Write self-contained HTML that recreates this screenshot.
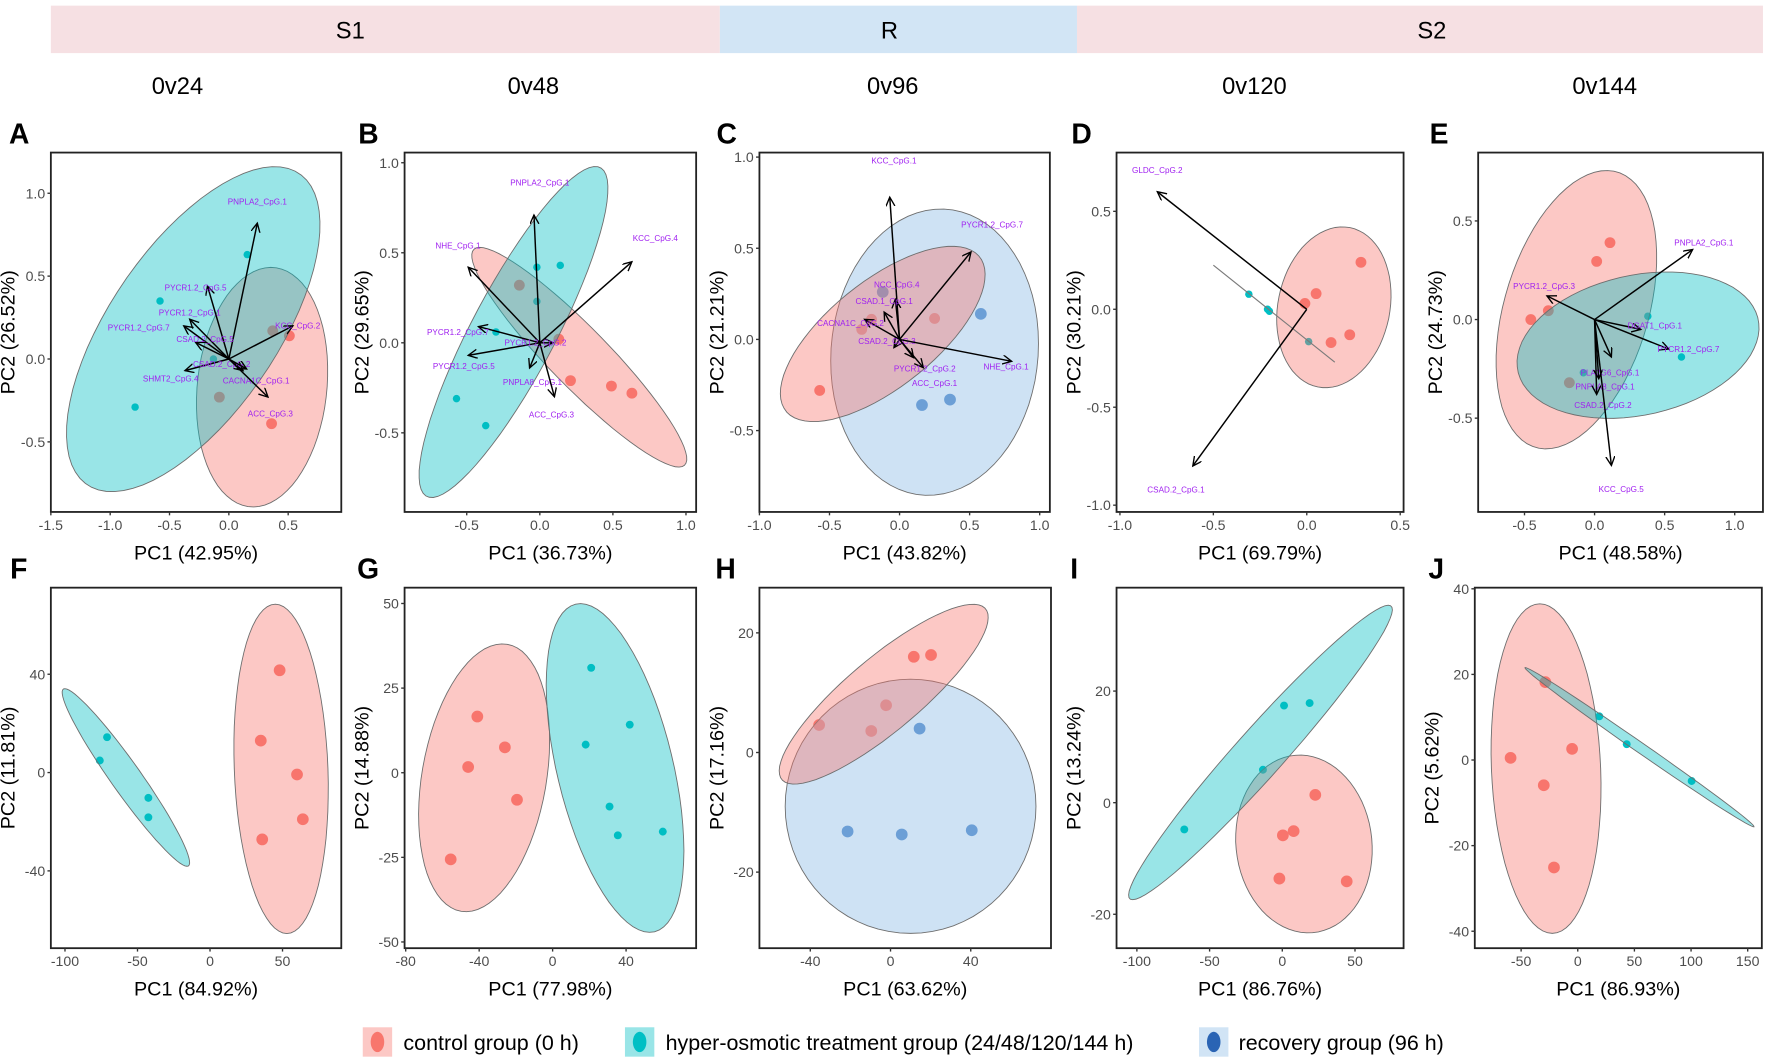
<!DOCTYPE html>
<html><head><meta charset="utf-8"><style>
html,body{margin:0;padding:0;background:#fff;}
svg{display:block;font-family:"Liberation Sans",sans-serif;}
</style></head><body>
<svg id="fig" xmlns="http://www.w3.org/2000/svg" width="1772" height="1063" viewBox="0 0 1568 940.6" preserveAspectRatio="none">
<defs>
<marker id="arr" markerUnits="userSpaceOnUse" markerWidth="10" markerHeight="10" refX="8" refY="4" orient="auto"><path d="M0,0 L8,4 L0,8" fill="none" stroke="#000" stroke-width="1.2"/></marker>
</defs>
<g>
<rect x="45" y="5" width="592" height="42" fill="#f6e0e3"/>
<rect x="637" y="5" width="316" height="42" fill="#d2e5f5"/>
<rect x="953" y="5" width="607" height="42" fill="#f6e0e3"/>
<text x="310" y="34" font-size="21" text-anchor="middle">S1</text>
<text x="787" y="34" font-size="21" text-anchor="middle">R</text>
<text x="1267" y="34" font-size="21" text-anchor="middle">S2</text>
</g>
<g font-size="21" text-anchor="middle">
<text x="157" y="83">0v24</text>
<text x="472" y="83">0v48</text>
<text x="790" y="83">0v96</text>
<text x="1110" y="83">0v120</text>
<text x="1420" y="83">0v144</text>
</g>
<g id="panels"></g>
<g font-size="19">
<rect x="321" y="909" width="26" height="26" fill="#f8766d" fill-opacity="0.4"/>
<ellipse cx="334" cy="922" rx="6" ry="9" fill="#f8766d"/>
<text x="357" y="929">control group (0 h)</text>
<rect x="553" y="909" width="26" height="26" fill="#00bfc4" fill-opacity="0.4"/>
<ellipse cx="566" cy="922" rx="6" ry="9" fill="#00bfc4"/>
<text x="589" y="929">hyper-osmotic treatment group (24/48/120/144 h)</text>
<rect x="1061" y="909" width="26" height="26" fill="#a3c9ec" fill-opacity="0.5"/>
<ellipse cx="1074" cy="922" rx="6" ry="9" fill="#2a64b4"/>
<text x="1096" y="929">recovery group (96 h)</text>
</g>
</svg>
<script>
// ---- data ----
const axisTitlesX = {A:"PC1 (42.95%)",B:"PC1 (36.73%)",C:"PC1 (43.82%)",D:"PC1 (69.79%)",E:"PC1 (48.58%)",F:"PC1 (84.92%)",G:"PC1 (77.98%)",H:"PC1 (63.62%)",I:"PC1 (86.76%)",J:"PC1 (86.93%)"};
const axisTitlesY = {A:"PC2 (26.52%)",B:"PC2 (29.65%)",C:"PC2 (21.21%)",D:"PC2 (30.21%)",E:"PC2 (24.73%)",F:"PC2 (11.81%)",G:"PC2 (14.88%)",H:"PC2 (17.16%)",I:"PC2 (13.24%)",J:"PC2 (5.62%)"};
const xTicks = {A:[-1.5,-1,-0.5,0,0.5],B:[-0.5,0,0.5,1],C:[-1,-0.5,0,0.5,1],D:[-1,-0.5,0,0.5],E:[-0.5,0,0.5,1],F:[-100,-50,0,50],G:[-80,-40,0,40],H:[-40,0,40],I:[-100,-50,0,50],J:[-50,0,50,100,150]};
const yTicks = {A:[-0.5,0,0.5,1],B:[-0.5,0,0.5,1],C:[-0.5,0,0.5,1],D:[-1,-0.5,0,0.5],E:[-0.5,0,0.5],F:[-40,0,40],G:[-50,-25,0,25,50],H:[-20,0,20],I:[-20,0,20],J:[-40,-20,0,20,40]};
const tickDecimals = {A:1,B:1,C:1,D:1,E:1,F:0,G:0,H:0,I:0,J:0};

const controlPts = {
A:[[0.51,0.14],[0.36,-0.39],[0.37,0.17],[-0.08,-0.23]],
B:[[0.13,0.02],[0.21,-0.21],[0.49,-0.24],[0.63,-0.28],[-0.14,0.32]],
C:[[-0.57,-0.28],[-0.27,0.055],[-0.2,0.11],[0.25,0.115]],
D:[[-0.01,0.03],[0.05,0.08],[0.29,0.24],[0.13,-0.17],[0.23,-0.13]],
E:[[0.11,0.39],[0.015,0.295],[-0.33,0.045],[-0.455,0],[-0.18,-0.32]],
F:[[48,41.6],[35,13],[60,-0.8],[64,-19],[36,-27.2]],
G:[[-41,16.6],[-26,7.5],[-46,1.7],[-19.4,-8],[-55.5,-25.6]],
H:[[-35.6,4.6],[-9.6,3.6],[-2.2,7.9],[11.6,16],[20.2,16.3]],
I:[[22.7,1.4],[0.4,-5.85],[7.8,-5.1],[-2,-13.6],[44.3,-14.1]],
J:[[-59.3,0.5],[-28.6,18.2],[-5,2.6],[-30,-5.9],[-21,-25.1]]
};
const treatPts = {
A:[[0.155,0.63],[-0.58,0.35],[-0.79,-0.29],[-0.13,0.0]],
B:[[-0.02,0.42],[0.14,0.43],[-0.02,0.23],[-0.3,0.06],[-0.57,-0.31],[-0.37,-0.46]],
C:[],
D:[[-0.31,0.077],[-0.21,0.0],[-0.2,-0.01],[0.01,-0.165]],
E:[[0.38,0.017],[0.62,-0.19],[-0.08,-0.27]],
F:[[-71,14.4],[-76,4.9],[-42.5,-10.3],[-42.5,-18.2]],
G:[[21,31],[42,14.2],[18,8.3],[31,-10],[35.5,-18.5],[60,-17.4]],
H:[],
I:[[1.2,17.4],[18.8,17.85],[-13.3,5.9],[-67.4,-4.8]],
J:[[19,10.2],[43.2,3.7],[100.5,-4.9]]
};
const recoveryPts = {
C:[[-0.12,0.26],[0.58,0.14],[0.16,-0.36],[0.36,-0.33]],
H:[[-21.4,-13.2],[5.6,-13.7],[40.5,-13],[14.5,4]]
};
// ellipses: [cx, cy, ux, uy, vx, vy] (centre + conjugate half-axes, data units)
const controlEll = {
A:[0.28,-0.17,0.12,0.72,0.54,-0.06],
B:[0.27,-0.08,0.72,-0.6,0.15,0.11],
C:[-0.12,0.03,0.63,0.46,0.37,-0.14],
D:[0.145,0.01,0.06,0.41,0.3,-0.02],
E:[-0.13,0.05,0.39,0.66,0.42,-0.25],
F:[49,1.5,-4,67,32.3,0],
G:[-37.3,-1.5,12.5,39.45,33.4,-3],
H:[-3.4,9.75,51.4,13.95,8.5,-5.6],
I:[14.9,-7.4,-5.9,15.9,46.6,1],
J:[-28,-2,-5.5,38.5,48.2,0]
};
const treatEll = {
A:[-0.3,0.18,0.91,0.93,0.56,-0.31],
B:[-0.18,0.06,0.6,0.91,0.24,-0.13],
E:[0.31,-0.13,0.84,0.17,0.2,-0.33],
F:[-58,-2,43,-36,9,3],
G:[34,1.4,-21.5,48.4,30.7,4],
I:[-15,9,89.5,26.3,14.7,-2.2],
J:[54.5,3,101,-18.6,4.6,0.6]
};
const recoveryEll = {
C:[0.25,-0.07,0.13,0.78,0.73,-0.09],
H:[10,-9,62.5,0,0,21.25]
};
// degenerate treatment ellipse in D (line): [x1,y1,x2,y2]
const treatLineD = [-0.5,0.225,0.15,-0.27];
// loading vectors: [name, tipX, tipY, labelX, labelY]
const vectors = {
A:[["PNPLA2_CpG.1",0.24,0.82,0.24,0.95],["PYCR1.2_CpG.5",-0.18,0.44,-0.28,0.43],["PYCR1.2_CpG.1",-0.33,0.24,-0.33,0.28],["PYCR1.2_CpG.7",-0.38,0.2,-0.76,0.19],["CSAD.2_CpG.5",-0.28,0.1,-0.2,0.12],["SHMT2_CpG.4",-0.37,-0.07,-0.49,-0.12],["CSAD.2_CpG.2",0.12,-0.07,-0.06,-0.03],["CACNA1C_CpG.1",0.15,-0.06,0.23,-0.13],["KCC_CpG.2",0.54,0.2,0.58,0.2],["ACC_CpG.3",0.33,-0.23,0.35,-0.33]],
B:[["PNPLA2_CpG.1",-0.04,0.71,0.0,0.89],["NHE_CpG.1",-0.49,0.42,-0.56,0.54],["KCC_CpG.4",0.63,0.45,0.79,0.58],["PYCR1.2_CpG.7",-0.42,0.09,-0.56,0.06],["PYCR1.2_CpG.5",-0.49,-0.07,-0.52,-0.13],["PNPLA8_CpG.1",-0.07,-0.14,-0.05,-0.22],["ACC_CpG.3",0.1,-0.3,0.08,-0.4],["PYCR1.2_CpG.2",0.09,0.0,-0.03,0.0]],
C:[["KCC_CpG.1",-0.07,0.78,-0.04,0.98],["PYCR1.2_CpG.7",0.51,0.48,0.66,0.63],["NCC_CpG.4",-0.03,0.22,-0.02,0.3],["CSAD.1_CpG.1",-0.11,0.15,-0.11,0.21],["CACNA1C_CpG.2",-0.25,0.11,-0.35,0.09],["CSAD.2_CpG.3",-0.04,-0.045,-0.09,-0.01],["PYCR1.2_CpG.2",0.17,-0.155,0.18,-0.16],["NHE_CpG.1",0.8,-0.12,0.76,-0.15],["ACC_CpG.1",0.1,-0.1,0.25,-0.24]],
D:[["GLDC_CpG.2",-0.8,0.6,-0.8,0.71],["CSAD.2_CpG.1",-0.61,-0.8,-0.7,-0.92]],
E:[["PNPLA2_CpG.1",0.7,0.355,0.78,0.39],["PYCR1.2_CpG.3",-0.34,0.12,-0.36,0.17],["DGAT1_CpG.1",0.33,-0.05,0.43,-0.03],["PYCR1.2_CpG.7",0.53,-0.15,0.67,-0.15],["PLA2G6_CpG.1",0.12,-0.19,0.11,-0.27],["PNPLA8_CpG.1",0.03,-0.3,0.075,-0.34],["CSAD.2_CpG.2",0.015,-0.38,0.06,-0.435],["KCC_CpG.5",0.12,-0.74,0.19,-0.86]]
};

// ---- layout (pixel geometry only) ----
const layout = {
A:{box:[45,135,302,453],xa:[-1.5,45,0.5,255],ya:[1,171,-0.5,391],lt:[8,127]},
B:{box:[358,135,616,453],xa:[-0.5,413,1,607],ya:[1,144,-0.5,383],lt:[317,127]},
C:{box:[672,135,929,453],xa:[-1,672,1,920],ya:[1,139,-0.5,381],lt:[634,127]},
D:{box:[988,135,1242,453],xa:[-1,991,0.5,1239],ya:[0.5,187,-1,447],lt:[948,127]},
E:{box:[1308,135,1560,453],xa:[-0.5,1349,1,1535],ya:[0.5,195.5,-0.5,370],lt:[1265,127]},
F:{box:[45,520,302,839],xa:[-100,57.5,50,250],ya:[40,596.6,-40,770.6],lt:[9,512]},
G:{box:[358,520,616,839],xa:[-80,359,40,554],ya:[50,534,-50,833.5],lt:[316,512]},
H:{box:[672,520,930,839],xa:[-40,717,40,859],ya:[20,560,-20,771.7],lt:[633,512]},
I:{box:[988,520,1242,839],xa:[-100,1006,50,1199],ya:[20,611.5,-20,809],lt:[947,512]},
J:{box:[1305,520,1559,839],xa:[-50,1346,150,1546.5],ya:[40,521,-40,824],lt:[1264,512]}
};
const NS="http://www.w3.org/2000/svg";
function mk(tag,attrs,parent){const e=document.createElementNS(NS,tag);for(const k in attrs)e.setAttribute(k,attrs[k]);parent.appendChild(e);return e;}
const root=document.getElementById('panels');
const COLORS={ctrl:"#f8766d",treat:"#00bfc4",rec:"#3a78c3"};
function fmt(v,d){return v.toFixed(d);}

for(const key of Object.keys(layout)){
  const L=layout[key];
  const sx=v=>L.xa[1]+(v-L.xa[0])*(L.xa[3]-L.xa[1])/(L.xa[2]-L.xa[0]);
  const sy=v=>L.ya[1]+(v-L.ya[0])*(L.ya[3]-L.ya[1])/(L.ya[2]-L.ya[0]);
  const [x0,y0,x1,y1]=L.box;
  const g=mk('g',{},root);
  
  
  const clipId='clip'+key;
  const cp=mk('clipPath',{id:clipId},g);mk('rect',{x:x0,y:y0,width:x1-x0,height:y1-y0},cp);
  const lt=mk('text',{x:L.lt[0],y:L.lt[1],'font-size':25,'font-weight':'bold'},g);lt.textContent=key;
  
  
  const plot=mk('g',{'clip-path':'url(#'+clipId+')'},g);
  
  
  const topRow='ABCDE'.includes(key);
  const r=topRow?4.8:5.2, rt=topRow?3.3:3.5;
  (controlPts[key]||[]).forEach(p=>{const c=mk('circle',{cx:sx(p[0]),cy:sy(p[1]),r:r,fill:COLORS.ctrl},plot);
    
    });
  (treatPts[key]||[]).forEach(p=>{const c=mk('circle',{cx:sx(p[0]),cy:sy(p[1]),r:rt,fill:COLORS.treat},plot);
    
    });
  (recoveryPts[key]||[]).forEach(p=>{const c=mk('circle',{cx:sx(p[0]),cy:sy(p[1]),r:5.2,fill:COLORS.rec},plot);
    
    });
  function ell(E,fill,op,name){
    if(!E)return;let d='';
    for(let i=0;i<=72;i++){const t=i/72*2*Math.PI;const X=E[0]+E[2]*Math.cos(t)+E[4]*Math.sin(t);const Y=E[1]+E[3]*Math.cos(t)+E[5]*Math.sin(t);d+=(i?'L':'M')+sx(X).toFixed(1)+','+sy(Y).toFixed(1);}
    const p=mk('path',{d:d+'Z',fill:fill,'fill-opacity':op,stroke:'#6e6e6e','stroke-width':0.8},plot);
    
    
  }
  ell(recoveryEll[key],'#9ec6ea',0.5,'recovery-ellipse');
  ell(controlEll[key],'#f8766d',0.4,'control-ellipse');
  ell(treatEll[key],'#00bfc4',0.4,'treatment-ellipse');
  if(key==='D'){const ln=mk('line',{x1:sx(treatLineD[0]),y1:sy(treatLineD[1]),x2:sx(treatLineD[2]),y2:sy(treatLineD[3]),stroke:'#7a7a7a','stroke-width':1},plot);
    
    }
  (vectors[key]||[]).forEach(v=>{
    const a=mk('line',{x1:sx(0),y1:sy(0),x2:sx(v[1]),y2:sy(v[2]),stroke:'#000','stroke-width':1.3,'marker-end':'url(#arr)'},plot);
    
    
    const t=mk('text',{x:sx(v[3]),y:sy(v[4])+2.5,'font-size':7.2,fill:'#a020f0','text-anchor':'middle'},plot);t.textContent=v[0];
    
    
  });
  const fr=mk('rect',{x:x0,y:y0,width:x1-x0,height:y1-y0,fill:'none',stroke:'#222','stroke-width':1.6},g);
  
  
  xTicks[key].forEach(v=>{const X=sx(v);mk('line',{x1:X,y1:y1,x2:X,y2:y1+3,stroke:'#333','stroke-width':1.2},g);
    const t=mk('text',{x:X,y:y1+16,'font-size':12.5,fill:'#4d4d4d','text-anchor':'middle'},g);t.textContent=fmt(v,tickDecimals[key]);
    
    });
  yTicks[key].forEach(v=>{const Y=sy(v);mk('line',{x1:x0-3,y1:Y,x2:x0,y2:Y,stroke:'#333','stroke-width':1.2},g);
    const t=mk('text',{x:x0-5,y:Y+4.5,'font-size':12.5,fill:'#4d4d4d','text-anchor':'end'},g);t.textContent=fmt(v,tickDecimals[key]);
    
    });
  const xt=mk('text',{x:(x0+x1)/2,y:y1+42,'font-size':17.5,'text-anchor':'middle'},g);xt.textContent=axisTitlesX[key];
  
  
  const yc=(y0+y1)/2;
  const yt=mk('text',{x:x0-32,y:yc,'font-size':17.5,'text-anchor':'middle',transform:'rotate(-90 '+(x0-32)+' '+yc+')'},g);yt.textContent=axisTitlesY[key];
  
  
}
</script>
</body></html>
